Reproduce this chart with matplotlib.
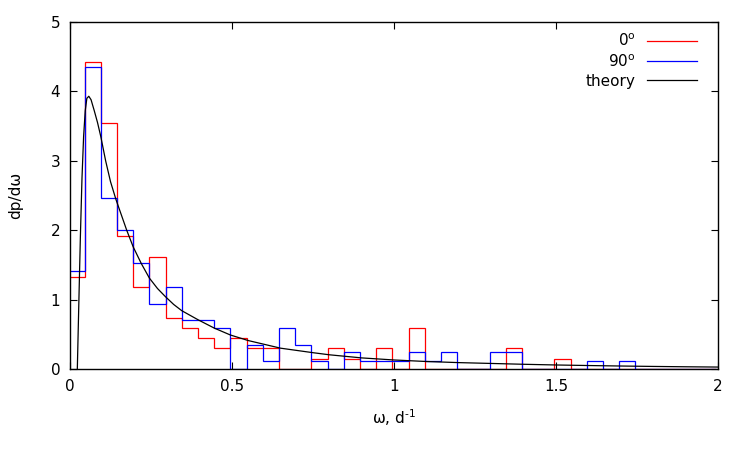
import numpy as np
import matplotlib
matplotlib.use("Agg")
import matplotlib.pyplot as plt

# histogram heights (dp/dw) per bin, bins of width 0.05 starting at -0.005
bin_width = 0.05
first_edge = -0.005
h_0deg = [1.33, 4.43, 3.54, 1.92, 1.18, 1.62, 0.74, 0.59, 0.44, 0.30,
          0.44, 0.30, 0.30, 0.00, 0.00, 0.15, 0.30, 0.15, 0.00, 0.30,
          0.00, 0.59, 0.00, 0.00, 0.00, 0.00, 0.00, 0.30, 0.00, 0.00,
          0.15, 0.00, 0.00, 0.00, 0.00, 0.00, 0.00, 0.00, 0.00, 0.00]
h_90deg = [1.41, 4.35, 2.47, 2.00, 1.53, 0.94, 1.18, 0.71, 0.71, 0.59,
           0.00, 0.35, 0.12, 0.59, 0.35, 0.12, 0.00, 0.24, 0.12, 0.12,
           0.12, 0.24, 0.12, 0.24, 0.00, 0.00, 0.24, 0.24, 0.00, 0.00,
           0.00, 0.00, 0.12, 0.00, 0.12, 0.00, 0.00, 0.00, 0.00, 0.00]

# theory curve
w_theory = [0.0226, 0.027, 0.032, 0.037, 0.042, 0.047, 0.052, 0.058, 0.065, 0.075,
            0.085, 0.095, 0.11, 0.125, 0.142, 0.16, 0.175, 0.195, 0.22, 0.245,
            0.27, 0.295, 0.32, 0.345, 0.395, 0.445, 0.495, 0.55, 0.65, 0.75,
            0.8, 0.9, 1.0, 1.1, 1.2, 1.3, 1.4, 1.5, 1.6, 1.7, 1.8, 1.9, 2.0]
p_theory = [0.0, 0.9, 1.9, 2.75, 3.35, 3.72, 3.9, 3.93, 3.88, 3.72,
            3.55, 3.35, 3.0, 2.7, 2.44, 2.2, 2.0, 1.76, 1.52, 1.31,
            1.16, 1.04, 0.93, 0.84, 0.71, 0.59, 0.49, 0.41, 0.30, 0.235,
            0.205, 0.16, 0.13, 0.108, 0.092, 0.08, 0.068, 0.058, 0.05, 0.043, 0.037, 0.032, 0.028]

edges = first_edge + bin_width * np.arange(len(h_0deg) + 1)

fig = plt.figure(figsize=(7.5, 4.5), dpi=100)
ax = fig.add_axes([70/750, 1 - 369/450, 648/750, 347/450])

lw = 0.9
ax.stairs(h_0deg, edges, baseline=0, color='#ff0000', lw=lw, label='0$^\\mathregular{o}$')
ax.stairs(h_90deg, edges, baseline=0, color='#0000ff', lw=lw, label='90$^\\mathregular{o}$')
ax.plot(w_theory, p_theory, color='black', lw=lw, label='theory')

ax.set_xlim(0, 2)
ax.set_ylim(0, 5)
ax.set_xticks([0, 0.5, 1, 1.5, 2])
ax.set_xticklabels(['0', '0.5', '1', '1.5', '2'])
ax.set_yticks([0, 1, 2, 3, 4, 5])
ax.tick_params(direction='in', length=5, width=0.8, top=True, right=True,
               labelsize=11, pad=7)
for s in ax.spines.values():
    s.set_linewidth(1.0)

ax.set_xlabel('ω, d$^\\mathregular{\u20101}$', fontsize=11, labelpad=10)
ax.set_ylabel('dp/dω', fontsize=11, labelpad=20)

ax.legend(loc='upper right', bbox_to_anchor=(1 - 10/648, 1), frameon=False,
          markerfirst=False, fontsize=11, handlelength=3.3, handletextpad=0.75,
          labelspacing=0.25, borderaxespad=0.3)

fig.savefig('out.png', dpi=100)
